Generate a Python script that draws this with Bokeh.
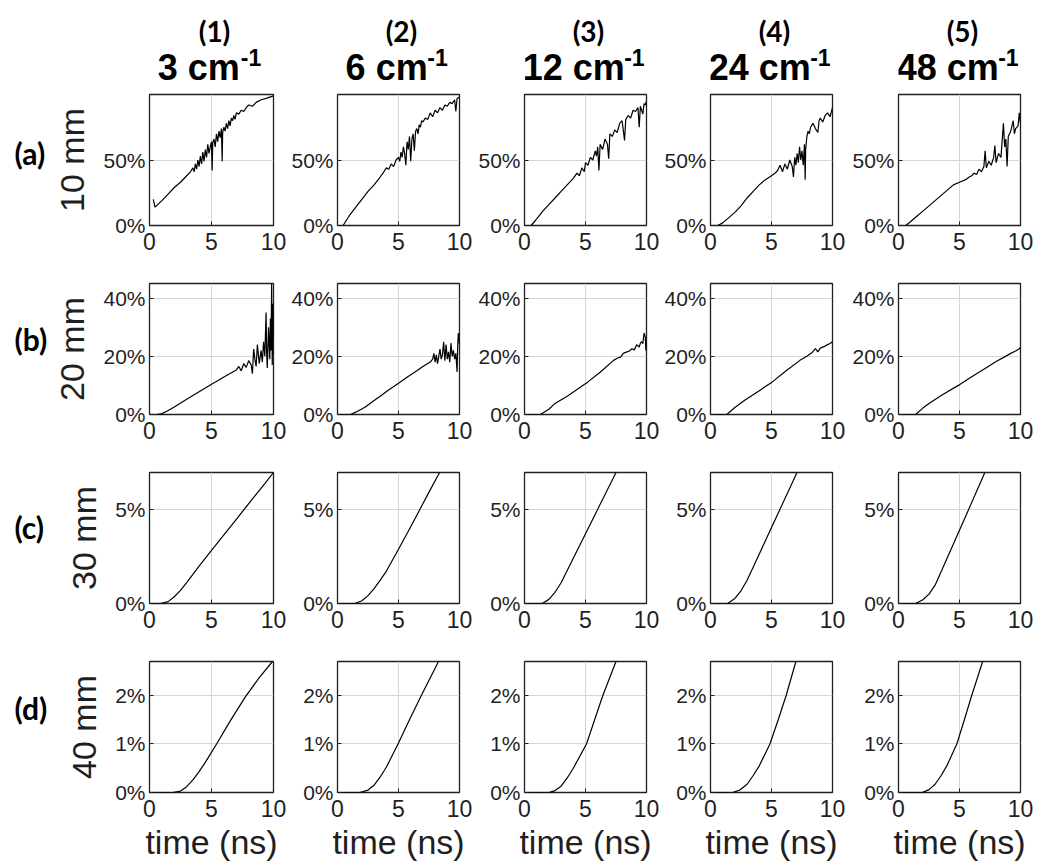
from bokeh.plotting import figure
from bokeh.layouts import gridplot
from bokeh.models import Range1d, FixedTicker
from bokeh.core.properties import value
from bokeh.embed import file_html
from bokeh.resources import INLINE

# ---------------- data ----------------
col_numbers = ["3", "6", "12", "24", "48"]
col_tags = ["(1)", "(2)", "(3)", "(4)", "(5)"]
row_tags = ["(a)", "(b)", "(c)", "(d)"]
row_depths = ["10 mm", "20 mm", "30 mm", "40 mm"]
row_ymax = [100, 45, 7, 2.7]
row_yticks = [[0, 50], [0, 20, 40], [0, 5], [0, 1, 2]]
x_ticks = [0, 5, 10]
x_label = "time (ns)"

# row (a) 10 mm
t_a1 = [0.30, 0.45, 1.0, 1.5, 2.0, 2.5, 3.0, 3.3, 3.5, 3.6, 3.7, 3.8, 3.9, 4.0, 4.1, 4.2, 4.3, 4.4, 4.5, 4.6, 4.7,
        4.8, 4.9, 5.0, 5.05, 5.1, 5.2, 5.3, 5.4, 5.5, 5.6, 5.7, 5.8, 5.86, 5.9, 6.0, 6.1, 6.2, 6.3, 6.4, 6.5, 6.6,
        6.7, 6.8, 6.9, 7.0, 7.2, 7.4, 7.6, 7.8, 8.0, 8.3, 8.6, 9.0, 9.4, 9.7, 10.0]
y_a1 = [20, 14, 19, 24, 29, 33, 38, 41, 44, 41, 47, 43, 50, 45, 53, 47, 56, 49, 58, 52, 62,
        55, 60, 64, 42, 63, 66, 60, 70, 64, 72, 67, 74, 49, 71, 75, 72, 78, 74, 80, 76, 82,
        80, 84, 81, 86, 85, 88, 87, 90, 92, 91, 94, 96, 97, 98, 99]
t_a2 = [0.46, 1.0, 1.5, 2.0, 2.5, 3.0, 3.5, 3.8, 4.0, 4.2, 4.4, 4.6, 4.8, 5.0, 5.1, 5.2, 5.3, 5.4, 5.5, 5.6, 5.7,
        5.8, 5.9, 6.0, 6.1, 6.2, 6.3, 6.4, 6.5, 6.6, 6.7, 6.8, 6.9, 7.0, 7.2, 7.4, 7.6, 7.8, 8.0, 8.2, 8.4, 8.6,
        8.8, 9.0, 9.2, 9.4, 9.6, 9.7, 9.8, 10.0]
y_a2 = [0, 8, 14, 20, 26, 31, 37, 41, 44, 43, 47, 45, 50, 52, 49, 56, 52, 60, 55, 46, 64,
        58, 68, 49, 66, 70, 57, 72, 74, 70, 77, 75, 80, 79, 82, 81, 86, 83, 88, 86, 90, 88,
        92, 91, 94, 93, 96, 87, 97, 98]
t_a3 = [0.54, 1.0, 1.5, 2.0, 2.5, 3.0, 3.5, 4.0, 4.3, 4.5, 4.7, 4.9, 5.0, 5.2, 5.4, 5.6, 5.8, 5.9, 6.0, 6.1, 6.2,
        6.4, 6.6, 6.8, 6.9, 7.0, 7.2, 7.4, 7.6, 7.8, 8.0, 8.2, 8.3, 8.5, 8.7, 8.9, 9.1, 9.3, 9.4, 9.5, 9.7, 9.8,
        9.9, 10.0]
y_a3 = [0, 5, 11, 16, 21, 26, 31, 36, 40, 38, 44, 41, 48, 46, 52, 50, 57, 53, 60, 42, 62,
        58, 66, 62, 51, 70, 68, 73, 71, 78, 80, 65, 81, 84, 82, 88, 87, 90, 75, 91, 85, 93,
        92, 95]
t_a4 = [0.6, 1.0, 1.5, 2.0, 2.5, 3.0, 3.5, 4.0, 4.5, 5.0, 5.3, 5.5, 5.7, 5.9, 6.1, 6.3, 6.5, 6.7, 6.8, 6.9, 7.0,
        7.1, 7.2, 7.3, 7.4, 7.5, 7.6, 7.7, 7.76, 7.8, 7.9, 8.0, 8.1, 8.2, 8.4, 8.6, 8.8, 8.9, 9.0, 9.2, 9.4, 9.6,
        9.8, 10.0]
y_a4 = [0, 2, 6, 10, 15, 21, 26, 31, 35, 38, 40, 42, 46, 41, 47, 43, 50, 45, 37, 52, 46,
        55, 48, 60, 50, 57, 46, 62, 35, 58, 68, 72, 70, 75, 78, 74, 71, 80, 82, 79, 84, 86,
        83, 90]
t_a5 = [0.6, 1.0, 1.5, 2.0, 2.5, 3.0, 3.5, 4.0, 4.5, 5.0, 5.5, 5.8, 6.0, 6.2, 6.4, 6.6, 6.8, 7.0, 7.1, 7.2, 7.4,
        7.6, 7.8, 7.9, 8.0, 8.2, 8.4, 8.6, 8.7, 8.8, 8.9, 9.0, 9.2, 9.4, 9.5, 9.6, 9.8, 9.9, 10.0]
y_a5 = [0, 3, 7, 11, 15, 19, 23, 27, 31, 33, 35, 37, 38, 40, 39, 43, 41, 45, 57, 44, 49,
        46, 52, 61, 48, 55, 52, 78, 60, 66, 45, 68, 72, 80, 70, 74, 76, 86, 78]

# row (b) 20 mm
t_b1 = [0.6, 1.0, 1.4, 2.0, 3.0, 4.0, 5.0, 5.5, 6.0, 6.5, 7.0, 7.2, 7.4, 7.6, 7.8, 8.0, 8.2, 8.3, 8.4, 8.5,
        8.6, 8.7, 8.85, 9.0, 9.1, 9.2, 9.3, 9.4, 9.45, 9.5, 9.6, 9.7, 9.75, 9.8, 9.85, 9.9, 9.95, 10.0]
y_b1 = [0, 0.3, 1.1, 2.6, 5.2, 7.8, 10.4, 11.6, 12.9, 14.1, 15.3, 16.5, 15, 17.5, 16.2, 18.5, 17, 14, 22.5, 19,
        16.5, 24, 17.5, 22, 18, 25, 20, 35, 21, 16, 30, 19, 33, 22, 45, 17, 38, 26]
t_b2 = [0.13, 1.07, 1.5, 2.28, 3.0, 3.5, 4.16, 5.0, 5.76, 6.5, 7.0, 7.6, 7.8, 7.9, 8.0, 8.1, 8.2, 8.4, 8.5, 8.6,
        8.7, 8.8, 8.9, 9.0, 9.1, 9.2, 9.3, 9.4, 9.5, 9.6, 9.7, 9.8, 9.85, 9.9, 10.0]
y_b2 = [0, 0, 0.8, 2.6, 4.8, 6.3, 8.3, 10.7, 13, 15, 16.5, 18, 19, 21, 18, 20.5, 17.5, 22.5, 19, 20.5,
        25, 18.5, 24, 19, 21.5, 18, 24.5, 20, 22, 19, 21, 14.6, 23, 28, 24]
t_b3 = [0.08, 1.3, 2.0, 2.5, 3.5, 4.3, 5.2, 6.2, 7.3, 7.6, 7.9, 8.1, 8.4, 8.6, 8.8, 9.0, 9.2, 9.4, 9.5, 9.6,
        9.7, 9.8, 9.9, 9.95, 10.0]
y_b3 = [0, 0, 1.8, 3.8, 6.3, 8.6, 11.2, 14.5, 18.6, 19.3, 19.8, 21, 21.5, 21.8, 22.6, 22.2, 24, 23.2, 24.5, 25,
        24.3, 28, 26.6, 22, 24]
t_b4 = [0.13, 1.33, 2.0, 2.8, 4.0, 5.07, 6.2, 7.33, 7.9, 8.3, 8.6, 8.8, 9.0, 9.3, 9.6, 9.8, 10.0]
y_b4 = [0, 0, 2.4, 4.9, 8.2, 11.2, 15, 18.6, 20, 21.2, 22.6, 21.5, 22.8, 23.3, 24, 24.4, 25]
t_b5 = [0.3, 1.4, 2.0, 2.5, 3.5, 4.9, 6.0, 7.1, 8.0, 8.7, 9.2, 9.6, 9.9, 10.0]
y_b5 = [0, 0, 2.2, 3.8, 6.5, 10, 13, 15.8, 18.2, 19.8, 21, 21.8, 22.6, 23]

# row (c) 30 mm
t_c1 = [0.1, 0.9, 1.5, 2.0, 2.5, 3.0, 4.0, 5.0, 6.0, 7.0, 7.6, 8.5, 9.3, 10.0]
y_c1 = [0, 0, 0.1, 0.36, 0.7, 1.12, 2.0, 2.84, 3.67, 4.5, 5.0, 5.75, 6.4, 7.0]
t_c2 = [0.2, 1.42, 2.0, 2.5, 3.0, 3.5, 4.0, 5.0, 6.0, 6.73, 7.5, 8.37]
y_c2 = [0, 0, 0.15, 0.42, 0.8, 1.25, 1.72, 2.9, 4.1, 5.0, 5.95, 7.0]
t_c3 = [0.1, 1.45, 2.0, 2.5, 3.0, 4.0, 5.0, 5.97, 7.5]
y_c3 = [0, 0, 0.22, 0.6, 1.11, 2.42, 3.73, 5.0, 7.0]
t_c4 = [0.2, 1.4, 2.0, 2.5, 3.0, 4.0, 5.0, 5.67, 7.09]
y_c4 = [0, 0, 0.27, 0.68, 1.24, 2.65, 4.06, 5.0, 7.0]
t_c5 = [0.2, 1.4, 2.0, 2.5, 3.0, 4.0, 5.0, 5.73, 7.08]
y_c5 = [0, 0, 0.2, 0.5, 0.98, 2.44, 3.92, 5.0, 7.0]

# row (d) 40 mm
t_d1 = [0.1, 1.86, 2.5, 3.0, 3.5, 4.0, 4.5, 5.41, 6.5, 7.73, 8.8, 9.92]
y_d1 = [0, 0, 0.03, 0.12, 0.26, 0.43, 0.62, 1.0, 1.47, 1.97, 2.35, 2.7]
t_d2 = [0.2, 1.83, 2.5, 3.0, 3.5, 4.0, 4.96, 5.9, 6.87, 8.28]
y_d2 = [0, 0, 0.05, 0.15, 0.32, 0.52, 1.0, 1.5, 2.0, 2.7]
t_d3 = [0.1, 2.0, 2.5, 3.0, 3.5, 4.0, 5.08, 5.75, 6.42, 7.5]
y_d3 = [0, 0, 0.04, 0.13, 0.3, 0.5, 1.0, 1.5, 2.0, 2.7]
t_d4 = [0.2, 1.8, 2.4, 3.0, 3.5, 4.0, 4.87, 5.55, 6.2, 7.0]
y_d4 = [0, 0, 0.05, 0.17, 0.35, 0.55, 1.0, 1.5, 2.0, 2.7]
t_d5 = [0.2, 1.95, 2.5, 3.0, 3.5, 4.0, 4.78, 5.4, 6.0, 6.9]
y_d5 = [0, 0, 0.06, 0.17, 0.35, 0.57, 1.0, 1.5, 2.0, 2.7]

series = [
    [(t_a1, y_a1), (t_a2, y_a2), (t_a3, y_a3), (t_a4, y_a4), (t_a5, y_a5)],
    [(t_b1, y_b1), (t_b2, y_b2), (t_b3, y_b3), (t_b4, y_b4), (t_b5, y_b5)],
    [(t_c1, y_c1), (t_c2, y_c2), (t_c3, y_c3), (t_c4, y_c4), (t_c5, y_c5)],
    [(t_d1, y_d1), (t_d2, y_d2), (t_d3, y_d3), (t_d4, y_d4), (t_d5, y_d5)],
]

# ---------------- layout ----------------
FRAME_W, FRAME_H = 124, 131
TAG_W = 48                      # column holding (a)..(d)
HEAD_H = 88                     # row holding (1)..(5) and the cm^-1 headers
col_left = [101, 47, 47, 47, 47]
col_right = [15, 16, 15, 17, 20]
row_top = [6, 14, 14, 14]
row_bottom = [44, 44, 44, 76]
row_tag_dy = [73, 76, 77, 85]   # centre of (a)..(d), px above the frame bottom

TICK_FONT = "Liberation Sans"
TAG_FONT = "Lato"
INK = "#1f1f1f"


def text_w(s, size):
    em = {" ": .278, "c": .556, "m": .889, "-": .333}
    return sum(em.get(ch, .556) for ch in s) * size


def blank(w, h, left=0, right=0, top=0, bottom=0):
    # text-only panel; its frame is aligned with the plot frames of its row / column by the grid,
    # so the ranges are given in pixels relative to that frame
    return figure(width=w, height=h, output_backend="svg", toolbar_location=None, tools="",
                  x_range=Range1d(0, w - left - right), y_range=Range1d(0, h - top - bottom),
                  x_axis_type=None, y_axis_type=None,
                  min_border_left=left, min_border_right=right, min_border_top=top, min_border_bottom=bottom,
                  outline_line_color=None, background_fill_color="white", border_fill_color="white")


grid = []

# header row
head_row = [blank(TAG_W, HEAD_H)]
for c in range(5):
    w = col_left[c] + FRAME_W + col_right[c]
    hb = blank(w, HEAD_H, left=col_left[c], right=col_right[c])
    cx = FRAME_W / 2
    hb.text(x=[cx + 3], y=[HEAD_H - 30], text=[col_tags[c]], text_font=value(TAG_FONT),
            text_font_style="bold", text_font_size=value("28px"), text_align="center",
            text_baseline="middle", text_color="black")
    main = f"{col_numbers[c]} cm"
    mw = text_w(main, 36)
    sw = text_w("-1", 23)
    x0 = cx - 2 - (mw + sw + 1) / 2
    hb.text(x=[x0], y=[HEAD_H - 67], text=[main], text_font=value(TICK_FONT), text_font_style="bold",
            text_font_size=value("36px"), text_align="left", text_baseline="middle", text_color="black")
    hb.text(x=[x0 + mw + 1], y=[HEAD_H - 57], text=["-1"], text_font=value(TICK_FONT),
            text_font_style="bold", text_font_size=value("23px"), text_align="left",
            text_baseline="middle", text_color="black")
    head_row.append(hb)
grid.append(head_row)

for r in range(4):
    h = row_top[r] + FRAME_H + row_bottom[r]
    tb = blank(TAG_W, h, top=row_top[r], bottom=row_bottom[r])
    tb.text(x=[14], y=[row_tag_dy[r]], text=[row_tags[r]], text_font=value(TAG_FONT),
            text_font_style="bold", text_font_size=value("30px"), text_align="left",
            text_baseline="middle", text_color="black")
    row_figs = [tb]
    for c in range(5):
        w = col_left[c] + FRAME_W + col_right[c]
        p = figure(width=w, height=h, output_backend="svg", toolbar_location=None, tools="",
                   x_range=Range1d(0, 10), y_range=Range1d(0, row_ymax[r]),
                   min_border_left=col_left[c], min_border_right=col_right[c],
                   min_border_top=row_top[r], min_border_bottom=row_bottom[r],
                   background_fill_color="white", border_fill_color="white",
                   outline_line_color=INK, outline_line_width=1.3)
        t, y = series[r][c]
        p.line(t, y, line_color="black", line_width=1.2)

        p.xaxis.ticker = FixedTicker(ticks=x_ticks)
        p.yaxis.ticker = FixedTicker(ticks=row_yticks[r])
        p.xgrid.ticker = FixedTicker(ticks=x_ticks)
        p.ygrid.ticker = FixedTicker(ticks=row_yticks[r])
        p.yaxis.major_label_overrides = {v: f"{v:g}%" for v in row_yticks[r]}
        p.grid.grid_line_color = "#d6d6d6"
        p.grid.grid_line_width = 1
        p.axis.axis_line_color = None
        p.axis.major_tick_in = 4
        p.axis.major_tick_out = 0
        p.axis.major_tick_line_color = INK
        p.axis.minor_tick_line_color = None
        p.axis.major_label_text_font = TICK_FONT
        p.axis.major_label_text_color = INK
        p.xaxis.major_label_text_font_size = "23px"
        p.yaxis.major_label_text_font_size = "21px"
        p.xaxis.major_label_standoff = 7
        p.yaxis.major_label_standoff = 4

        if c == 0:
            p.yaxis.axis_label = row_depths[r]
            p.yaxis.axis_label_text_font = TICK_FONT
            p.yaxis.axis_label_text_font_style = "normal"
            p.yaxis.axis_label_text_font_size = "34px"
            p.yaxis.axis_label_text_color = INK
            p.yaxis.axis_label_standoff = 9
        if r == 3:
            p.xaxis.axis_label = x_label
            p.xaxis.axis_label_text_font = TICK_FONT
            p.xaxis.axis_label_text_font_style = "normal"
            p.xaxis.axis_label_text_font_size = "34px"
            p.xaxis.axis_label_text_color = INK
            p.xaxis.axis_label_standoff = 3
        row_figs.append(p)
    grid.append(row_figs)

layout = gridplot(grid, toolbar_location=None)
open("out.html", "w").write(file_html(layout, INLINE))
